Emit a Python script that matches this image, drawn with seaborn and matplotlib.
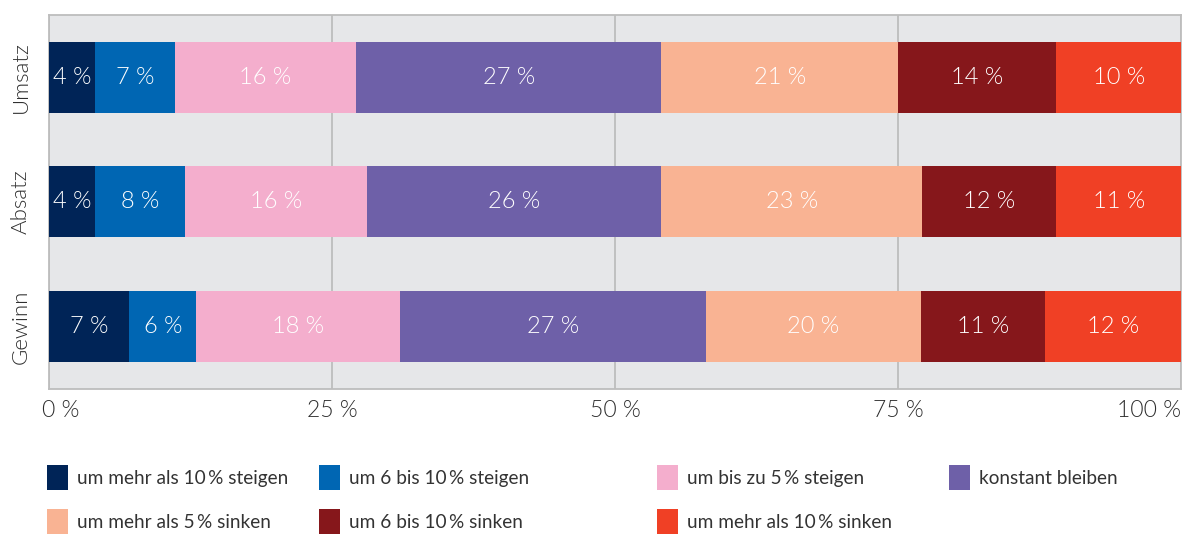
import numpy as np
import pandas as pd
import seaborn as sns
import matplotlib.pyplot as plt
import matplotlib.transforms as mtransforms
from matplotlib.patches import Patch

# ---- data ----
categories = ["Umsatz", "Absatz", "Gewinn"]
series = [
    "um mehr als 10\u2009% steigen",
    "um 6 bis 10\u2009% steigen",
    "um bis zu 5\u2009% steigen",
    "konstant bleiben",
    "um mehr als 5\u2009% sinken",
    "um 6 bis 10\u2009% sinken",
    "um mehr als 10\u2009% sinken",
]
v_up_more10 = [4.1, 4.1, 7.1]
v_up_6to10 = [7.0, 7.9, 5.9]
v_up_to5 = [16.0, 16.1, 18.0]
v_constant = [27.0, 26.0, 27.0]
v_down_more5 = [20.9, 23.0, 19.0]
v_down_6to10 = [14.0, 11.9, 11.0]
v_down_more10 = [11.0, 11.0, 12.0]

lab_up_more10 = [4, 4, 7]
lab_up_6to10 = [7, 8, 6]
lab_up_to5 = [16, 16, 18]
lab_constant = [27, 26, 27]
lab_down_more5 = [21, 23, 20]
lab_down_6to10 = [14, 12, 11]
lab_down_more10 = [10, 11, 12]

xticks = [0, 25, 50, 75, 100]
xticklabels = ["0 %", "25 %", "50 %", "75 %", "100 %"]

colors = ["#002457", "#0066b3", "#f4aecd", "#6e60a8", "#f9b393", "#86171b", "#f04025"]

values = [v_up_more10, v_up_6to10, v_up_to5, v_constant, v_down_more5, v_down_6to10, v_down_more10]
labels = [lab_up_more10, lab_up_6to10, lab_up_to5, lab_constant, lab_down_more5, lab_down_6to10, lab_down_more10]

df = pd.DataFrame({s: v for s, v in zip(series, values)})
df.insert(0, "Kategorie", categories)
cum = df[series].cumsum(axis=1)

# ---- style ----
sns.set_theme(style="white")
plt.rcParams["font.family"] = ["Lato", "DejaVu Sans"]
plt.rcParams["font.weight"] = 300

W, H = 1187, 534
fig = plt.figure(figsize=(W / 100, H / 100), dpi=100)
ax = fig.add_axes([49 / W, 1 - 389 / H, (1181 - 49) / W, (389 - 14.7) / H])
ax.set_facecolor("#e6e7e9")

# stacked horizontal bars: draw cumulative totals from the largest down
for s, c in reversed(list(zip(series, colors))):
    sns.barplot(x=cum[s], y=df["Kategorie"], orient="h", color=c, saturation=1,
                width=0.57, errorbar=None, linewidth=0, ax=ax, zorder=3)

# value labels
for i, s in enumerate(series):
    for j, cat in enumerate(categories):
        center = cum[s].iloc[j] - df[s].iloc[j] / 2
        ax.text(center, j, f"{labels[i][j]} %", ha="center", va="center",
                color="white", fontsize=17, fontweight=300, zorder=5)

ax.set_xlim(0, 100)
ax.set_ylim(2.5, -0.5)
ax.set_xticks(xticks)
ax.set_xticklabels(xticklabels)
ax.set_xlabel("")
ax.set_ylabel("")
ax.tick_params(axis="x", length=0, pad=8, labelsize=16.5, labelcolor="#2e2e2e")
ax.tick_params(axis="y", length=0, pad=13, labelsize=16, labelcolor="#2e2e2e")
tl = ax.get_xticklabels()
tl[0].set_ha("left")
tl[0].set_transform(tl[0].get_transform() + mtransforms.ScaledTranslation(-7 / 100, 0, fig.dpi_scale_trans))
tl[-1].set_ha("right")
for t in ax.get_yticklabels():
    t.set_rotation(90)
    t.set_va("center")

ax.grid(axis="x", color="#bdbdbd", linewidth=1.3, zorder=1)
ax.grid(axis="y", visible=False)
ax.set_axisbelow(True)
for sp in ax.spines.values():
    sp.set_visible(True)
    sp.set_color("#bdbdbd")
    sp.set_linewidth(1.3)

# legend: four columns, row-wise order
cols = [[0, 4], [1, 5], [2, 6], [3]]
col_x = [47, 319, 657, 949]
for idxs, x in zip(cols, col_x):
    handles = [Patch(facecolor=colors[k], edgecolor="none", label=series[k]) for k in idxs]
    fig.legend(handles=handles, loc="upper left", bbox_to_anchor=(x / W, 1 - 465 / H),
               bbox_transform=fig.transFigure, frameon=False,
               prop={"size": 13.7, "weight": 400},
               handlelength=1.12, handleheight=1.67, handletextpad=0.45,
               labelspacing=0.97, borderpad=0, borderaxespad=0,
               labelcolor="#333333")

fig.savefig("out.png", dpi=100)
